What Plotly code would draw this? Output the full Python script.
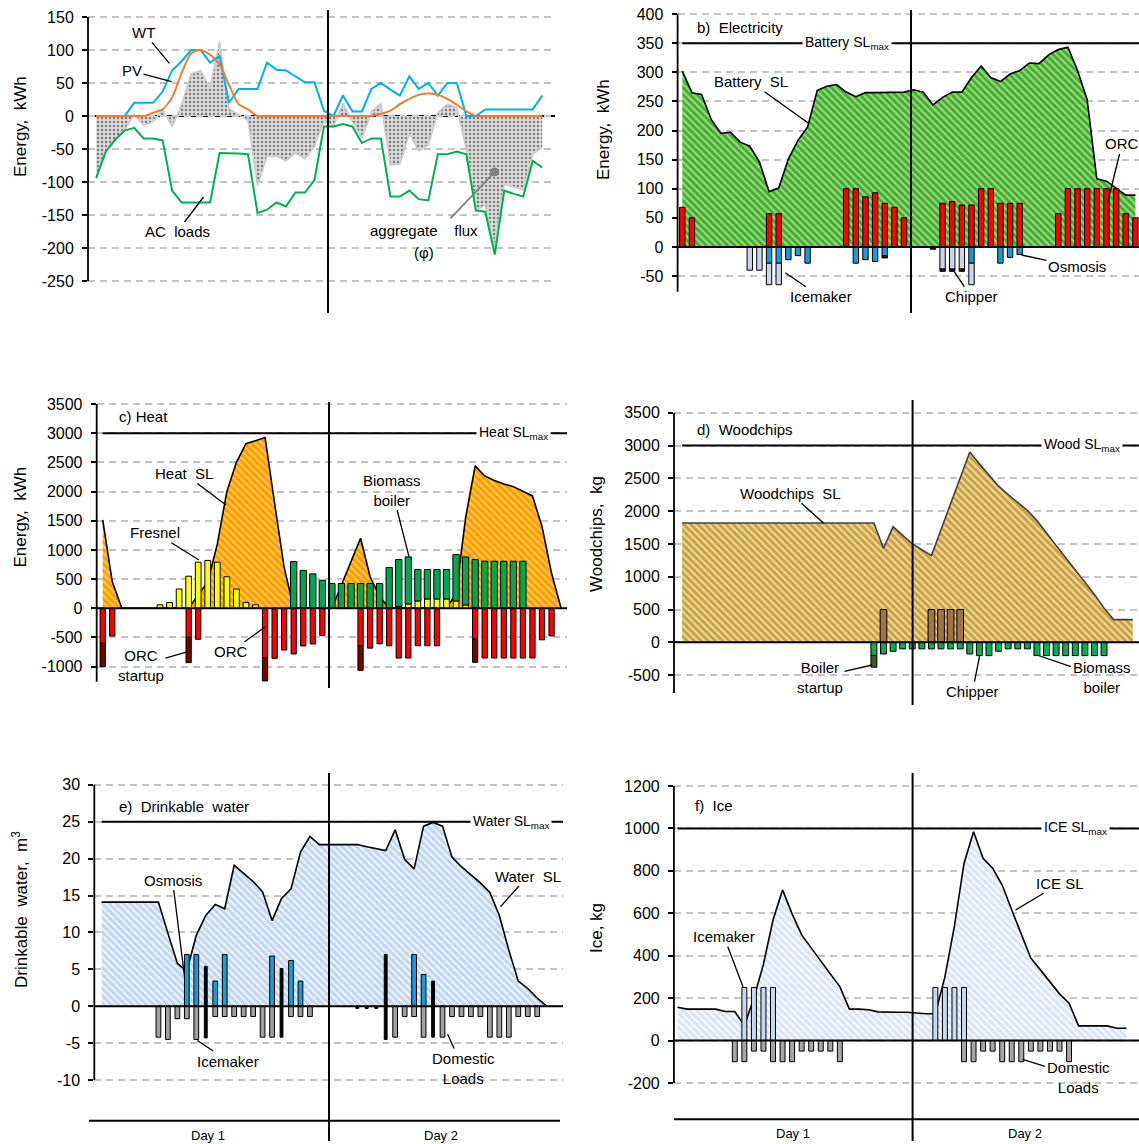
import plotly.graph_objects as go

W, H = 1139, 1144
FONT = "Liberation Sans, Arial, sans-serif"
_ = None

hours = list(range(48))
hours49 = list(range(49))

# ---------------- a) electricity balance, kWh
wt = [0, 0, 0, 0, 20, 20, 20, 37, 69, 83, 100, 100, 81, 91, 20, 41, 41, 41, 81, 70, 69, 60, 51, 51,
      8, 0, 31, 7, 7, 41, 50, 40, 31, 60, 41, 50, 31, 50, 50, 0, 0, 10, 10, 10, 10, 10, 10, 31]
pv = [0, 0, 0, 0, 0, 0, 5, 10, 28, 65, 95, 100, 93, 78, 47, 18, 10, 0, 0, 0, 0, 0, 0, 0,
      0, 0, 0, 0, 0, 0, 3, 8, 18, 26, 32, 34, 32, 26, 17, 7, 0, 0, 0, 0, 0, 0, 0, 0]
ac_loads = [-94, -54, -36, -22, -18, -34, -34, -37, -113, -131, -131, -131, -131, -56, -56, -57, -58, -147, -142, -131, -137, -116, -116, -97,
            -16, -16, -12, -16, -41, -34, -34, -122, -122, -113, -126, -128, -58, -58, -54, -58, -143, -145, -210, -113, -118, -122, -68, -78]
aggregate_flux = [-94, -54, -36, -22, 2, -14, -9, 10, -16, 17, 64, 69, 43, 113, 11, 2, -7, -106, -61, -61, -68, -56, -65, -46,
                  -8, -16, 19, -9, -34, 7, 19, -74, -73, -27, -53, -44, 5, 18, 13, -51, -143, -135, -200, -103, -108, -112, -58, -47]

# ---------------- b) electricity storage, kWh
battery_sl = [302, 265, 262, 219, 195, 197, 180, 173, 146, 95, 101, 151, 183, 206, 269, 276, 279, 266, 258, 265, 265, 265, 265, 266,
              270, 266, 244, 257, 266, 266, 291, 311, 291, 284, 297, 303, 316, 315, 330, 339, 343, 303, 253, 117, 113, 101, 89, 89]
orc_el = [68, 50, _, _, _, _, _, _, _, 57, 57, _, _, _, _, _, _, 100, 100, 86, 93, 75, 68, 50,
          _, _, _, 75, 78, 72, 72, 100, 100, 75, 75, 75, _, _, _, 57, 100, 100, 100, 100, 100, 100, 57, 50]
osmosis_el = [_, _, _, _, _, _, _, _, _, -28, -28, -22, -15, -28, _, _, _, _, -28, -22, -25, -15, _, _,
              _, _, _, _, _, _, -28, _, _, -28, -18, -13, _, _, _, _, _, _, _, _, _, _, _, _]
icemaker_el = [_, _, _, _, _, _, _, -40, -40, -37, -37, _, _, _, _, _, _, _, _, _, _, _, _, _,
               _, _, _, -38, -38, -38, -37, _, _, _, _, _, _, _, _, _, _, _, _, _, _, _, _, _]
chipper_el = [_, _, _, _, _, _, _, _, _, _, _, _, _, _, _, _, _, _, _, _, _, -4, _, _,
              _, _, -4, -4, -4, -4, _, _, _, _, _, _, _, _, _, _, _, _, _, _, _, _, _, _]

# ---------------- c) heat, kWh
heat_sl = [1513, 457, 0, 0, 0, 0, 0, 0, 0, 0, 230, 450, 1100, 1999, 2500, 2820, 2870, 2924, 1800, 700, 0, 0, 0, 0,
           0, 400, 800, 1200, 540, 200, 0, 0, 0, 0, 0, 0, 0, 250, 1550, 2440, 2267, 2190, 2130, 2084, 2000, 1925, 1400, 600, 0]
fresnel = [_, _, _, _, _, _, 60, 100, 330, 550, 790, 820, 790, 540, 330, 100, 60, _, _, _, _, _, _, _,
           _, _, _, _, _, _, _, 30, 74, 125, 160, 160, 160, 125, 57, 15, _, _, _, _, _, _, _, _]
boiler_heat = [_, _, _, _, _, _, _, _, _, _, _, _, _, _, _, _, _, _, _, _, 800, 650, 590, 480,
               426, 426, 426, 426, 426, 426, 699, 805, 806, 540, 505, 505, 505, 795, 823, 820, 807, 807, 807, 807, 807, _, _, _]
orc_heat = [-600, -474, _, _, _, _, _, _, _, -497, -531, _, _, _, _, _, _, -845, -857, -714, -782, -645, -611, -468,
            _, _, _, -642, -682, -608, -642, -852, -852, -642, -642, -642, _, _, _, -528, -852, -852, -852, -852, -852, -852, -540, -472]
orc_startup = [-400, _, _, _, _, _, _, _, _, -434, _, _, _, _, _, _, _, -400, _, _, _, _, _, _,
               _, _, _, -420, _, _, _, _, _, _, _, _, _, _, _, -398, _, _, _, _, _, _, _, _]

# ---------------- d) woodchips, kg
wood_sl = [1819, 1819, 1819, 1819, 1819, 1819, 1819, 1819, 1819, 1819, 1819, 1819, 1819, 1819, 1819, 1819, 1819, 1819, 1819, 1819, 1819, 1433, 1763, 1630,
           1499, 1410, 1321, 1720, 2120, 2520, 2900, 2720, 2545, 2380, 2253, 2135, 2010, 1855, 1660, 1474, 1290, 1100, 910, 730, 520, 346, 346, 346]
chipper_wood = [_, _, _, _, _, _, _, _, _, _, _, _, _, _, _, _, _, _, _, _, _, 500, _, _,
                _, _, 500, 500, 500, 500, _, _, _, _, _, _, _, _, _, _, _, _, _, _, _, _, _, _]
boiler_wood = [_, _, _, _, _, _, _, _, _, _, _, _, _, _, _, _, _, _, _, _, -200, -178, -137, -100,
               -100, -100, -100, -100, -100, -100, -178, -203, -203, -137, -100, -100, -100, -203, -203, -203, -203, -203, -203, -203, -203, _, _, _]
boiler_startup = [_, _, _, _, _, _, _, _, _, _, _, _, _, _, _, _, _, _, _, _, -180, _, _, _,
                  _, _, _, _, _, _, _, _, _, _, _, _, _, _, _, _, _, _, _, _, _, _, _, _]

# ---------------- e) drinkable water, m3
water_sl = [14.1, 14.1, 14.1, 14.1, 14.1, 14.1, 14.1, 9.9, 5.8, 4.8, 9.6, 12.3, 13.8, 13.2, 19.1, 18.0, 16.9, 15.5, 11.6, 14.6, 15.9, 20.9, 23.0, 21.9,
            21.9, 21.9, 21.9, 21.9, 21.6, 21.4, 21.1, 23.9, 19.9, 18.6, 24.4, 24.9, 24.4, 20.2, 18.9, 17.8, 16.7, 15.4, 12.3, 7.6, 3.4, 2.4, 1.1, 0]
osmosis_water = [_, _, _, _, _, _, _, _, _, 7.0, 7.0, _, 3.4, 7.0, _, _, _, _, 6.8, _, 6.2, 3.4, _, _,
                 _, _, _, _, _, _, _, _, _, 7.0, 4.3, _, _, _, _, _, _, _, _, _, _, _, _, _]
aux_water = [_, _, _, _, _, _, _, _, _, _, _, 5.4, _, _, _, _, _, _, _, 5.1, _, _, _, _,
             _, _, _, _, _, _, 7.0, _, _, _, _, 3.4, _, _, _, _, _, _, _, _, _, _, _, _]
domestic_water = [_, _, _, _, _, _, -4.2, -4.5, -1.7, -1.7, -4.5, _, -1.4, -1.4, -1.4, -1.4, -1.4, -4.2, -4.2, _, -1.4, -1.4, -1.4, _,
                  _, _, _, _, _, _, _, -4.2, -1.4, -1.4, -4.2, _, -4.2, -1.4, -1.4, -1.4, -1.4, -4.2, -4.2, -4.2, -1.4, -1.4, -1.4, _]
icemaker_water = [_, _, _, _, _, _, _, _, _, _, _, -4.3, _, _, _, _, _, _, _, -4.2, _, _, _, _,
                  _, _, _, -0.3, -0.3, -0.3, -4.5, _, _, _, _, -4.2, _, _, _, _, _, _, _, _, _, _, _, _]

# ---------------- f) ice, kg
ice_sl = [157, 148, 148, 148, 148, 137, 137, 70, 200, 360, 568, 710, 597, 498, 435, 372, 314, 254, 148, 148, 145, 135, 133, 133,
          133, 128, 126, 126, 300, 540, 835, 984, 859, 812, 733, 615, 505, 388, 333, 275, 220, 176, 69, 69, 69, 69, 58, 58]
icemaker_ice = [_, _, _, _, _, _, _, 250, 250, 250, 250, _, _, _, _, _, _, _, _, _, _, _, _, _,
                _, _, _, 250, 250, 250, 250, _, _, _, _, _, _, _, _, _, _, _, _, _, _, _, _, _]
domestic_ice = [_, _, _, _, _, _, -100, -100, -50, -50, -100, -100, -100, -50, -50, -50, -50, -100, _, _, _, _, _, _,
                _, _, _, _, _, _, -100, -100, -50, -50, -100, -100, -100, -50, -50, -50, -50, -100, _, _, _, _, _, _]

# ---------------- tick labels
ticks_a = [-250, -200, -150, -100, -50, 0, 50, 100, 150]
ticks_b = [-50, 0, 50, 100, 150, 200, 250, 300, 350, 400]
ticks_c = [-1000, -500, 0, 500, 1000, 1500, 2000, 2500, 3000, 3500]
ticks_d = [-500, 0, 500, 1000, 1500, 2000, 2500, 3000, 3500]
ticks_e = [-10, -5, 0, 5, 10, 15, 20, 25, 30]
ticks_f = [-200, 0, 200, 400, 600, 800, 1000, 1200]
day_labels = ["Day 1", "Day 2"]

# ---------------- panel geometry (pixel calibration of each subplot)
PANELS = [
    dict(k=1, x0=96.2, xs=9.49, xL=88.0, xR=555.0, y0=116.0, ys=0.66, yT=8, yB=292, ticks=ticks_a,
         axis=(150, -250), div=(328, 10, 313), sl=None),
    dict(k=2, x0=682.3, xs=9.64, xL=677.6, xR=1139.0, y0=246.9, ys=0.582, yT=8, yB=294, ticks=ticks_b,
         axis=(400, -77), div=(911, 10, 313), sl=(350, "Battery SL<sub>max</sub>", 847)),
    dict(k=3, x0=102.7, xs=9.55, xL=96.7, xR=567.0, y0=608.3, ys=0.05838, yT=398, yB=690, ticks=ticks_c,
         axis=(3500, -1257), div=(329, 402, 688), sl=(3000, "Heat SL<sub>max</sub>", 513)),
    dict(k=4, x0=682.1, xs=9.59, xL=674.0, xR=1139.0, y0=642.3, ys=0.0656, yT=398, yB=700, ticks=ticks_d,
         axis=(3500, -773), div=(912.6, 400, 705), sl=(3000, "Wood SL<sub>max</sub>", 1082)),
    dict(k=5, x0=101.6, xs=9.47, xL=94.3, xR=563.0, y0=1006.2, ys=7.38, yT=772, yB=1086, ticks=ticks_e,
         axis=(30, -10), div=(329, 773, 1141), sl=(25, "Water SL<sub>max</sub>", 511)),
    dict(k=6, x0=677.5, xs=9.55, xL=673.9, xR=1139.0, y0=1040.5, ys=0.2121, yT=772, yB=1086, ticks=ticks_f,
         axis=(1200, -200), div=(912.6, 773, 1141), sl=(1000, "ICE SL<sub>max</sub>", 1075)),
]


def fx(px):
    return px / W


def fy(py):
    return 1 - py / H


def refs(k):
    s = '' if k == 1 else str(k)
    return 'x' + s, 'y' + s


fig = go.Figure()


def add_area(k, x, y, fp, line_color='black'):
    xr, yr = refs(k)
    fig.add_trace(go.Scatter(x=x, y=y, mode='lines', fill='tozeroy',
                             line=dict(color=line_color, width=1.6),
                             fillcolor=fp['bgcolor'], fillpattern=fp,
                             xaxis=xr, yaxis=yr, hoverinfo='skip'))


def add_line(k, y, color, shape='linear'):
    xr, yr = refs(k)
    fig.add_trace(go.Scatter(x=hours, y=y, mode='lines',
                             line=dict(color=color, width=2, shape=shape, smoothing=0.6),
                             xaxis=xr, yaxis=yr, hoverinfo='skip'))


def add_bar(k, y, color, width):
    xr = refs(k)[0]
    fig.add_trace(go.Bar(x=hours, y=y, width=width,
                         marker=dict(color=color, line=dict(color='black', width=1)),
                         xaxis=xr, yaxis='y' + str(k + 6), hoverinfo='skip'))


# a)
add_area(1, hours, aggregate_flux,
         dict(shape='.', bgcolor='#d9d9d9', fgcolor='#7f7f7f', size=4, solidity=0.3), line_color='#cccccc')
add_line(1, ac_loads, '#00b050')
add_line(1, wt, '#00b0f0')
add_line(1, pv, '#ed7d31', shape='spline')

# b)
add_area(2, hours, battery_sl, dict(shape='\\', bgcolor='#3cae3c', fgcolor='#9fd66e', size=5, solidity=0.45))
add_bar(2, orc_el, '#ff0000', 0.56)
add_bar(2, osmosis_el, '#1a9ad6', 0.56)
add_bar(2, icemaker_el, '#c9d7ec', 0.56)
add_bar(2, chipper_el, '#1e1e1e', 0.56)

# c)
add_area(3, hours49, heat_sl, dict(shape='\\', bgcolor='#ff9a00', fgcolor='#ffc84a', size=5, solidity=0.45))
add_bar(3, fresnel, '#ffff00', 0.6)
add_bar(3, boiler_heat, '#00a651', 0.66)
add_bar(3, orc_heat, '#ff0000', 0.55)
add_bar(3, orc_startup, '#7a0000', 0.55)

# d)
add_area(4, hours, wood_sl, dict(shape='\\', bgcolor='#c9a13a', fgcolor='#e9d59f', size=5, solidity=0.45),
         line_color='#404040')
add_bar(4, chipper_wood, '#a0714a', 0.7)
add_bar(4, boiler_wood, '#00b050', 0.62)
add_bar(4, boiler_startup, '#3b5a1e', 0.62)

# e)
add_area(5, hours, water_sl, dict(shape='\\', bgcolor='#c4d6ec', fgcolor='#eef3fa', size=5, solidity=0.4))
add_bar(5, osmosis_water, '#1a9ad6', 0.5)
add_bar(5, aux_water, '#000000', 0.3)
add_bar(5, domestic_water, '#a0a0a0', 0.5)
add_bar(5, icemaker_water, '#000000', 0.3)

# f)
add_area(6, hours, ice_sl, dict(shape='\\', bgcolor='#dae5f3', fgcolor='#f6f9fd', size=5, solidity=0.4))
add_bar(6, icemaker_ice, '#c6d9f1', 0.52)
add_bar(6, domestic_ice, '#a6a6a6', 0.52)

layout = {}
shapes = []
annotations = []


def hline(x0, x1, py, width=2, layer='above', color='black'):
    shapes.append(dict(type='line', xref='paper', yref='paper', x0=fx(x0), x1=fx(x1), y0=fy(py), y1=fy(py),
                       line=dict(color=color, width=width), layer=layer))


def vline(px, y0, y1, width=2):
    shapes.append(dict(type='line', xref='paper', yref='paper', x0=fx(px), x1=fx(px), y0=fy(y0), y1=fy(y1),
                       line=dict(color='black', width=width), layer='above'))


def text(t, cx, cy, size=15, xanchor='center', angle=0, **kw):
    annotations.append(dict(text=t, x=fx(cx), y=fy(cy), xref='paper', yref='paper', showarrow=False,
                            xanchor=xanchor, yanchor='middle', textangle=angle,
                            font=dict(size=size, family=FONT, color='black'), **kw))


for p in PANELS:
    k = p['k']
    s = '' if k == 1 else str(k)
    xr = [(p['xL'] - p['x0']) / p['xs'], (p['xR'] - p['x0']) / p['xs']]
    yr = [(p['y0'] - p['yB']) / p['ys'], (p['y0'] - p['yT']) / p['ys']]
    layout['xaxis' + s] = dict(domain=[fx(p['xL']), fx(p['xR'])], range=xr, anchor='y' + s, visible=False,
                               showgrid=False, zeroline=False, showline=False, showticklabels=False, ticks='')
    layout['yaxis' + s] = dict(domain=[fy(p['yB']), fy(p['yT'])], range=yr, anchor='x' + s,
                               tickvals=p['ticks'], ticktext=[str(t) for t in p['ticks']],
                               ticks='outside', ticklen=5, tickwidth=1.5, tickcolor='black',
                               showline=False, zeroline=False, showgrid=True,
                               gridcolor='#c4c4c4', griddash='7px,5px', gridwidth=1.6,
                               tickfont=dict(size=16, family=FONT, color='black'), ticklabelstandoff=5)
    layout['yaxis' + str(k + 6)] = dict(overlaying='y' + s, anchor='x' + s, range=yr, visible=False,
                                        showgrid=False, zeroline=False)
    # y axis line
    vline(p['xL'], p['y0'] - p['axis'][0] * p['ys'], p['y0'] - p['axis'][1] * p['ys'], width=1.8)
    # zero line
    hline(p['xL'], p['xR'], p['y0'], width=2, layer='between' if k == 1 else 'above')
    # day divider
    vline(p['div'][0], p['div'][1], p['div'][2], width=2)
    # storage maximum
    if p['sl']:
        val, txt, cx = p['sl']
        py = p['y0'] - val * p['ys']
        hline(p['x0'], p['xR'], py, width=2)
        text(txt, cx, py, size=14, bgcolor='white', borderpad=2)

# Day axis under e) and f)
hline(89, 560, 1120.7, width=2)
hline(674, 1139, 1119.3, width=2)
for cx, t in zip([208, 441], day_labels):
    text(t, cx, 1135, size=13)
for cx, t in zip([792.5, 1024.5], day_labels):
    text(t, cx, 1133, size=13)

# y axis titles
for t, (cx, cy) in [("Energy,\u00a0 kWh", (20, 127)), ("Energy,\u00a0 kWh", (603, 130)),
                    ("Energy,\u00a0 kWh", (20.5, 517)), ("Woodchips,\u00a0 kg", (596, 534)),
                    ("Drinkable\u00a0 water,\u00a0 m<sup>3</sup>", (20, 910)), ("Ice,\u00a0kg", (596, 928))]:
    text(t, cx, cy, size=17, angle=-90)

# panel titles
for t, (lx, cy) in [("b)\u00a0 Electricity", (695, 27)), ("c) Heat", (117, 416)),
                    ("d)\u00a0 Woodchips", (694.7, 429.3)), ("e)\u00a0 Drinkable\u00a0 water", (117, 806)),
                    ("f)\u00a0 Ice", (693, 805))]:
    text(t, lx, cy, size=15, xanchor='left')

# labels with leader lines: (text, tip px, text centre px)
leaders = [
    ("WT", (169.4, 63.3), (143.6, 32.3)),
    ("PV", (171.6, 81.7), (132, 71)),
    ("AC\u00a0 loads", (203.5, 197), (177, 232)),
    ("Battery\u00a0 SL", (808.6, 123.3), (750.5, 81.7)),
    ("ORC", (1107.6, 202.7), (1122, 144)),
    ("Osmosis", (1021.5, 255), (1077, 266.7)),
    ("Icemaker", (785.3, 272.7), (820.5, 296.7)),
    ("Chipper", (954.4, 271.8), (971, 296.7)),
    ("Heat\u00a0 SL", (226, 505), (184, 473.6)),
    ("Fresnel", (199, 560), (155.4, 532.7)),
    ("Biomass<br>boiler", (409, 556.7), (392, 490)),
    ("ORC<br>startup", (188, 651.7), (141, 665)),
    ("ORC", (264.7, 627.3), (230.5, 651.7)),
    ("Woodchips\u00a0 SL", (823.7, 523.3), (790.4, 493.3)),
    ("Boiler<br>startup", (872.1, 665), (820, 677)),
    ("Chipper", (979.6, 656), (972.5, 691.7)),
    ("Biomass<br>boiler", (1037, 655), (1101.5, 677)),
    ("Osmosis", (184.5, 976.4), (172.5, 880)),
    ("Icemaker", (197.3, 1040.5), (228.4, 1061)),
    ("Water\u00a0 SL", (500.5, 906.7), (528, 876)),
    ("Domestic<br>Loads", (447.6, 1034.3), (463.3, 1068.5)),
    ("ICE SL", (1015.5, 910), (1060.3, 883.3)),
    ("Icemaker", (743, 986.7), (724, 936.7)),
    ("Domestic<br>Loads", (1022.7, 1059.3), (1078, 1077)),
]
for t, (tx, ty), (cx, cy) in leaders:
    annotations.append(dict(text=t, x=fx(tx), y=fy(ty), xref='paper', yref='paper', showarrow=True,
                            ax=cx - tx, ay=cy - ty, arrowhead=0, arrowwidth=1.3, arrowcolor='black',
                            standoff=0, startstandoff=0, font=dict(size=15, family=FONT, color='black')))

# aggregate flux label with grey leader ending in a dot
text("aggregate\u00a0\u00a0\u00a0\u00a0flux", 423.5, 230)
text("(\u03c6)", 423.5, 252)
shapes.append(dict(type='line', xref='paper', yref='paper', x0=fx(450.5), y0=fy(218.3), x1=fx(494.6), y1=fy(172),
                   line=dict(color='#7f7f7f', width=1.8), layer='above'))
shapes.append(dict(type='circle', xref='paper', yref='paper', x0=fx(490.6), x1=fx(498.6), y0=fy(176), y1=fy(168),
                   fillcolor='#7f7f7f', line=dict(color='#7f7f7f', width=1), layer='above'))

fig.update_layout(**layout)
fig.update_layout(width=W, height=H, autosize=False, margin=dict(l=0, r=0, t=0, b=0),
                  template='none', showlegend=False, barmode='relative',
                  plot_bgcolor='white', paper_bgcolor='white',
                  font=dict(family=FONT, color='black'),
                  shapes=shapes, annotations=annotations)

fig.write_html("out.html")
